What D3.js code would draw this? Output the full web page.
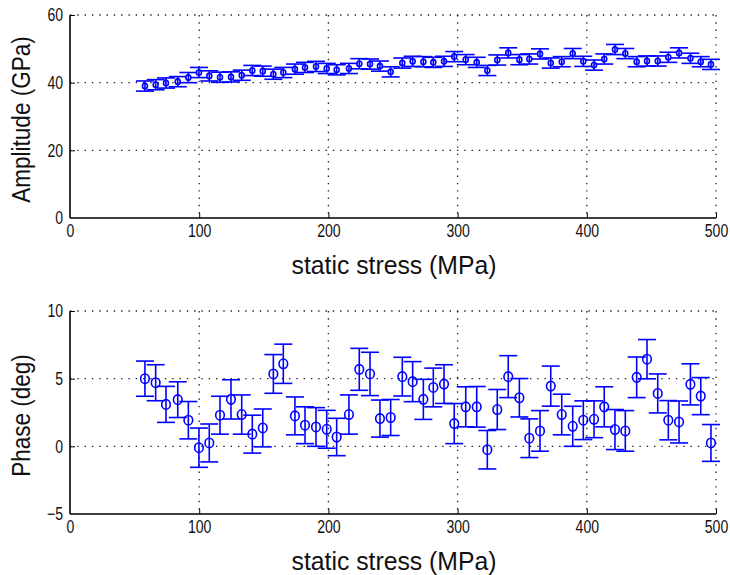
<!DOCTYPE html>
<html>
<head>
<meta charset="utf-8">
<script src="https://cdn.jsdelivr.net/npm/d3@7"></script>
<style>
  html, body { margin: 0; padding: 0; background: #fff; }
  svg text { font-family: "Liberation Sans", Arial, sans-serif; fill: #111; }
</style>
</head>
<body>
<svg id="chart" width="730" height="575"></svg>
<script>
// ---- data ----
const stress = [58.0, 66.3, 74.3, 83.4, 91.6, 99.8, 107.8, 116.1, 124.6, 132.9,
  141.1, 149.2, 157.4, 165.1, 174.1, 181.9, 190.4, 198.7, 206.4, 215.9,
  223.9, 232.2, 239.9, 248.2, 257.2, 265.2, 273.5, 281.2, 289.5, 297.4,
  306.3, 314.8, 323.0, 330.7, 339.2, 347.8, 355.5, 363.8, 372.1, 380.6,
  389.1, 397.3, 405.6, 413.5, 421.8, 429.8, 438.6, 446.6, 454.9, 463.1,
  471.4, 480.2, 488.2, 496.1];

const amplitude = [39.0, 39.4, 39.9, 40.3, 41.5, 43.0, 42.0, 41.6, 41.7, 42.2,
  43.6, 43.4, 42.5, 43.0, 44.0, 44.5, 44.8, 44.2, 43.8, 44.2,
  45.6, 45.5, 44.9, 43.2, 45.8, 46.3, 46.2, 46.0, 46.3, 47.7,
  46.8, 46.0, 43.6, 46.7, 48.8, 46.8, 47.0, 48.5, 45.8, 46.2,
  48.6, 46.3, 45.2, 47.0, 49.8, 48.6, 46.2, 46.4, 46.4, 47.5,
  48.8, 47.2, 46.2, 45.4];
const amplitudeErr = [1.5, 1.5, 1.5, 1.5, 1.5, 1.5, 1.5, 1.5, 1.5, 1.5,
  1.5, 1.5, 1.5, 1.5, 1.5, 1.5, 1.5, 1.5, 1.5, 1.5,
  1.5, 1.5, 1.5, 1.5, 1.5, 1.5, 1.5, 1.5, 1.5, 1.5,
  1.5, 1.5, 1.5, 1.5, 1.5, 1.5, 1.5, 1.5, 1.5, 1.5,
  1.5, 1.5, 1.5, 1.5, 1.5, 1.5, 1.5, 1.5, 1.5, 1.5,
  1.5, 1.5, 1.5, 1.5];

const phase = [5.0, 4.7, 3.1, 3.45, 1.93, -0.1, 0.25, 2.3, 3.47, 2.35,
  0.9, 1.36, 5.35, 6.1, 2.25, 1.56, 1.43, 1.26, 0.69, 2.35,
  5.69, 5.35, 2.05, 2.13, 5.15, 4.78, 3.47, 4.35, 4.6, 1.68,
  2.92, 2.92, -0.25, 2.72, 5.15, 3.59, 0.6, 1.14, 4.45, 2.35,
  1.48, 1.93, 2.0, 2.92, 1.24, 1.14, 5.1, 6.44, 3.91, 1.93,
  1.8, 4.58, 3.71, 0.25];
const phaseErr = [1.3, 1.33, 1.33, 1.32, 1.38, 1.45, 1.4, 1.4, 1.45, 1.45,
  1.4, 1.4, 1.43, 1.45, 1.4, 1.36, 1.43, 1.4, 1.38, 1.45,
  1.55, 1.6, 1.37, 1.33, 1.43, 1.48, 1.48, 1.43, 1.43, 1.48,
  1.48, 1.5, 1.42, 1.48, 1.55, 1.42, 1.43, 1.5, 1.48, 1.5,
  1.48, 1.43, 1.36, 1.48, 1.48, 1.5, 1.5, 1.45, 1.44, 1.45,
  1.55, 1.52, 1.37, 1.36];

const xTicks = [0, 100, 200, 300, 400, 500];
const ampTicks = [0, 20, 40, 60];
const phaseTicks = [-5, 0, 5, 10];
const xLabel = "static stress (MPa)";
const ampLabel = "Amplitude (GPa)";
const phaseLabel = "Phase (deg)";

// ---- drawing ----
const svg = d3.select("#chart");
const blue = "#0000ff";
const x = d3.scaleLinear().domain([0, 500]).range([70, 716]);

function squeeze(sel, factor) {
  sel.each(function () {
    const w = this.getComputedTextLength();
    d3.select(this).attr("textLength", w * factor).attr("lengthAdjust", "spacingAndGlyphs");
  });
}

function panel(cfg) {
  const y = d3.scaleLinear().domain(cfg.yDomain).range([cfg.bottom, cfg.top]);
  const g = svg.append("g");

  // dotted grid (including boundaries)
  const dash = "1.4,5.9";
  g.append("g").selectAll("line").data(xTicks.filter(t => t > 0)).join("line")
    .attr("x1", d => x(d)).attr("x2", d => x(d))
    .attr("y1", cfg.top).attr("y2", cfg.bottom)
    .attr("stroke", "#222").attr("stroke-width", 1.3).attr("stroke-dasharray", dash);
  g.append("g").selectAll("line").data(cfg.yTicks.filter(t => t > cfg.yDomain[0])).join("line")
    .attr("x1", 70).attr("x2", 716)
    .attr("y1", d => y(d)).attr("y2", d => y(d))
    .attr("stroke", "#222").attr("stroke-width", 1.3).attr("stroke-dasharray", dash);

  // axes
  const xAxis = d3.axisBottom(x).tickValues(xTicks).tickSize(-5).tickPadding(6).tickFormat(d3.format("d"));
  const gx = g.append("g").attr("transform", `translate(0,${cfg.bottom})`).call(xAxis);
  const yAxis = d3.axisLeft(y).tickValues(cfg.yTicks).tickSize(-5).tickPadding(7).tickFormat(d3.format("d"));
  const gy = g.append("g").attr("transform", "translate(70,0)").call(yAxis);
  [gx, gy].forEach(a => {
    a.select(".domain").attr("stroke", "#000").attr("stroke-width", 1.6);
    a.selectAll(".tick line").attr("stroke", "#000").attr("stroke-width", 1);
    a.selectAll(".tick text").attr("font-size", 18).attr("fill", "#111")
      .style("font-family", '"Liberation Sans", Arial, sans-serif');
    squeeze(a.selectAll(".tick text"), 0.78);
  });
  gx.select(".domain").attr("d", `M70,0H716`);
  gy.select(".domain").attr("d", `M0,${cfg.top}V${cfg.bottom}`);
  gx.selectAll(".tick").filter(d => d === 0).select("line").remove();
  gy.selectAll(".tick").filter(d => d === cfg.yDomain[0]).select("line").remove();

  // axis labels
  const xl = g.append("text").attr("x", 394).attr("y", cfg.bottom + 56)
    .attr("text-anchor", "middle").attr("font-size", 25).text(xLabel);
  xl.attr("textLength", 205).attr("lengthAdjust", "spacingAndGlyphs");
  const yl = g.append("text").attr("transform", `translate(30,${(cfg.top + cfg.bottom) / 2 + 3}) rotate(-90)`)
    .attr("text-anchor", "middle").attr("font-size", 25).text(cfg.label);
  squeeze(yl, 0.9);

  // error bars
  const data = stress.map((s, i) => ({ s, v: cfg.values[i], e: cfg.errs[i] }));
  const cap = 9;
  const eb = g.append("g").attr("stroke", blue).attr("stroke-width", 1.6).attr("fill", "none");
  const items = eb.selectAll("g").data(data).join("g");
  items.append("line")
    .attr("x1", d => x(d.s)).attr("x2", d => x(d.s))
    .attr("y1", d => y(d.v - d.e)).attr("y2", d => y(d.v + d.e));
  items.append("line")
    .attr("x1", d => x(d.s) - cap).attr("x2", d => x(d.s) + cap)
    .attr("y1", d => y(d.v + d.e)).attr("y2", d => y(d.v + d.e));
  items.append("line")
    .attr("x1", d => x(d.s) - cap).attr("x2", d => x(d.s) + cap)
    .attr("y1", d => y(d.v - d.e)).attr("y2", d => y(d.v - d.e));
  items.append("ellipse")
    .attr("cx", d => x(d.s)).attr("cy", d => y(d.v))
    .attr("rx", cfg.r).attr("ry", cfg.r * 1.1);
}

panel({ yDomain: [0, 60], top: 15, bottom: 218, yTicks: ampTicks, values: amplitude, errs: amplitudeErr, label: ampLabel, r: 2.5 });
panel({ yDomain: [-5, 10], top: 311, bottom: 514, yTicks: phaseTicks, values: phase, errs: phaseErr, label: phaseLabel, r: 4.3 });
</script>
</body>
</html>
